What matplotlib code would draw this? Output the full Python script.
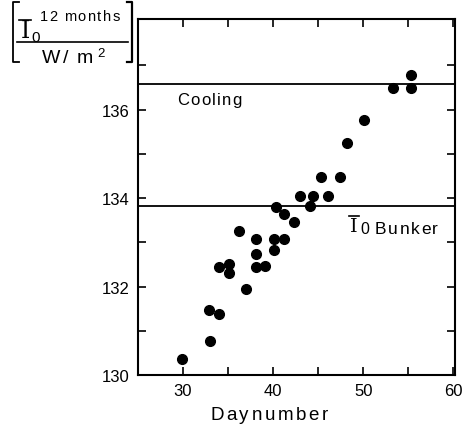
import matplotlib
matplotlib.use("Agg")
import matplotlib.pyplot as plt
from matplotlib.lines import Line2D
from matplotlib.font_manager import FontProperties

# data
day = [29.9, 33.0, 32.9, 34.0, 34.0, 35.1, 35.1, 36.2, 37.0, 38.1,
       38.1, 38.1, 39.1, 40.1, 40.1, 40.3, 41.2, 41.2, 42.3, 43.0,
       44.1, 44.4, 45.3, 46.1, 47.4, 48.2, 50.1, 53.3, 55.3, 55.3]
irr = [130.36, 130.78, 131.46, 131.37, 132.44, 132.51, 132.31, 133.26, 131.95, 132.44,
       132.74, 133.07, 132.47, 132.83, 133.07, 133.80, 133.07, 133.65, 133.46, 134.05,
       133.83, 134.05, 134.48, 134.05, 134.48, 135.24, 135.77, 136.49, 136.49, 136.78]
cooling = 136.57
bunker = 133.82
xticks = [30, 40, 50, 60]
yticks = [130, 132, 134, 136]

W, H = 462, 427
plt.rcParams['font.family'] = ['Liberation Sans', 'DejaVu Sans']

fig = plt.figure(figsize=(W/100, H/100), dpi=100)
ax = fig.add_axes([138/W, 1-376/H, 317/W, 356/H])
renderer = fig.canvas.get_renderer()


def px(x, y):
    return x/W, 1-y/H


def spaced(x0, x1, y, s, size, family='Liberation Sans'):
    # old lettering is spread wide, so place letters one by one
    prop = FontProperties(family=family, size=size)
    widths = []
    for ch in s:
        if ch == ' ':
            widths.append(size*0.28)
        else:
            w, h, d = renderer.get_text_width_height_descent(ch, prop, ismath=False)
            widths.append(w)
    gap = (x1 - x0 - sum(widths)) / (len(s) - 1)
    x = x0
    for ch, w in zip(s, widths):
        if ch != ' ':
            fig.text(*px(x, y), ch, fontproperties=prop, ha='left', va='baseline')
        x += w + gap


def bar(x0, x1, y, lw=1.2):
    fig.add_artist(Line2D([x0/W, x1/W], [1-y/H, 1-y/H], color='black', lw=lw))


ax.plot(day, irr, 'o', color='black', ms=7)
ax.axhline(cooling, color='black', lw=1.3)
ax.axhline(bunker, color='black', lw=1.3)

ax.set_xlim(25, 60.2)
ax.set_ylim(130, 138.05)
ax.set_xticks(xticks)
ax.set_xticks([35, 45, 55], minor=True)
ax.set_yticks(yticks)
ax.set_yticks([131, 133, 135, 137], minor=True)
ax.tick_params(which='both', direction='in', top=True, right=True,
               length=6, width=1.2, labelsize=12, pad=6)
for s in ax.spines.values():
    s.set_linewidth(1.5)

# line labels
spaced(177, 242, 105, 'Cooling', 12)
fig.text(*px(354, 232), 'I', fontsize=14, family='DejaVu Serif', ha='center', va='baseline')
bar(349, 359, 216.5)
fig.text(*px(360, 234), '0', fontsize=11.5, ha='left', va='baseline')
spaced(375, 438, 234, 'Bunker', 12.5)

spaced(210, 328, 420, 'Daynumber', 13.5)

# y label in brackets
fig.text(*px(25, 38), 'I', fontsize=17, family='DejaVu Serif', ha='center', va='baseline')
bar(19, 31, 20.5)
fig.text(*px(31, 42), '0', fontsize=11, ha='left', va='baseline')
spaced(40, 120, 21, '12 months', 10.5)
bar(17, 128, 43)
spaced(42, 93, 63, 'W/ m', 14)
fig.text(*px(97, 57), '2', fontsize=9.5, ha='left', va='baseline')
fig.add_artist(Line2D([19/W, 12.5/W, 12.5/W, 19/W], [1-3/H, 1-3/H, 1-63/H, 1-63/H],
                      color='black', lw=1.3))
fig.add_artist(Line2D([127/W, 131.5/W, 131.5/W, 127/W], [1-3/H, 1-3/H, 1-63/H, 1-63/H],
                      color='black', lw=1.6))

fig.savefig('out.png', dpi=100)
